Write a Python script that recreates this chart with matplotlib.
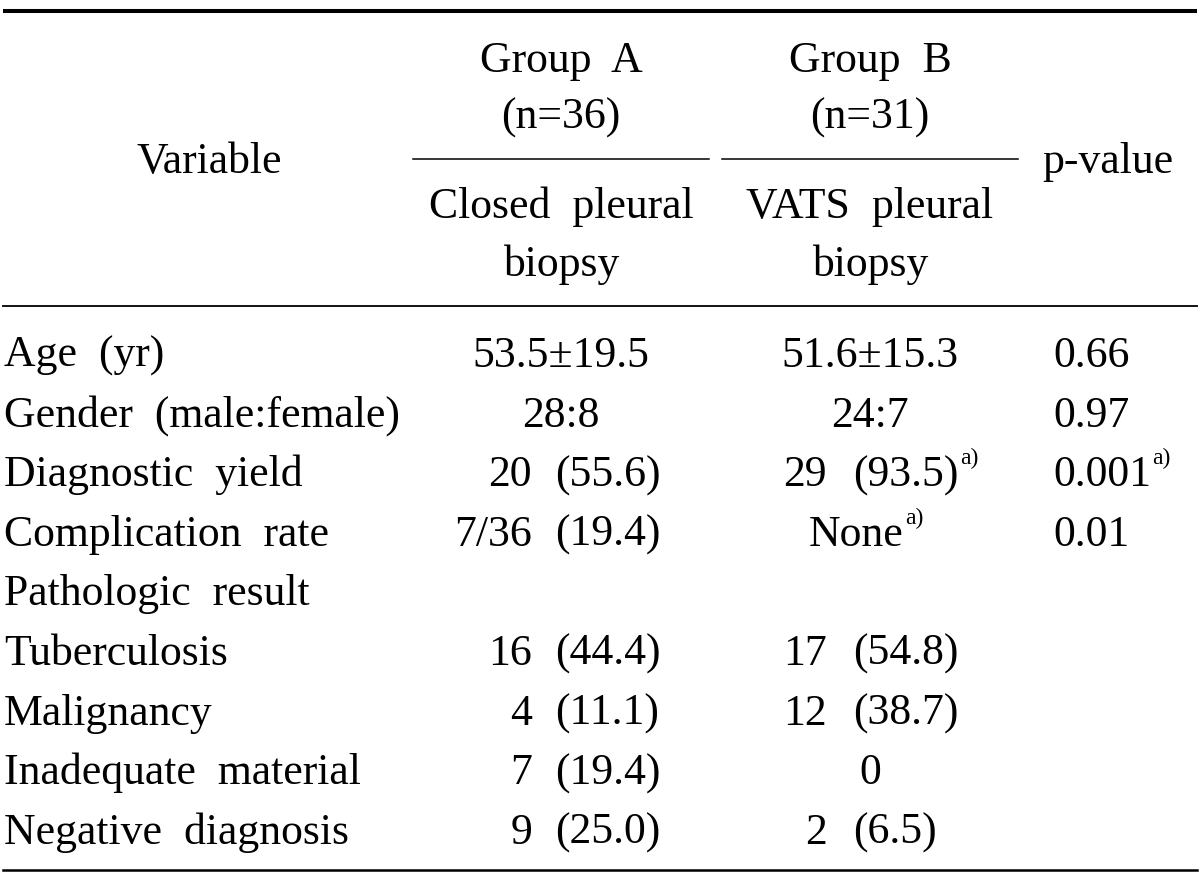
#!/usr/bin/env python3
"""Comparison table: closed vs VATS pleural biopsy, drawn as text on a blank axes."""

import matplotlib
matplotlib.use("Agg")
import matplotlib.pyplot as plt

plt.rcParams["font.family"] = ["Liberation Serif", "DejaVu Serif"]

LABELS = ["Age  (yr)", "Gender  (male:female)", "Diagnostic  yield",
          "Complication  rate", "Pathologic  result", "Tuberculosis",
          "Malignancy", "Inadequate  material", "Negative  diagnosis"]

# group A (closed pleural biopsy): count and percent, percent None = single value
A_COUNT = ["53.5±19.5", "28:8", "20", "7/36", "", "16", "4", "7", "9"]
A_PCT = [None, None, "(55.6)", "(19.4)", None, "(44.4)", "(11.1)", "(19.4)", "(25.0)"]

# group B (VATS pleural biopsy)
B_COUNT = ["51.6±15.3", "24:7", "29", "None", "", "17", "12", "0", "2"]
B_PCT = [None, None, "(93.5)", None, None, "(54.8)", "(38.7)", None, "(6.5)"]
B_NOTE = [False, False, True, True, False, False, False, False, False]

P_VALUES = ["0.66", "0.97", "0.001", "0.01", "", "", "", "", ""]
P_NOTE = [False, False, True, False, False, False, False, False, False]

HEAD_A = ["Group  A", "(n=36)", "Closed  pleural", "biopsy"]
HEAD_B = ["Group  B", "(n=31)", "VATS  pleural", "biopsy"]

FS = 31.5
SUP_FS = 17


def add_note(ax, t, y):
    ax.annotate("a)", xy=(1, y - 22), xycoords=(t, "data"),
                xytext=(1, 0), textcoords="offset points",
                fontsize=SUP_FS, ha="left", va="baseline")


def main():
    fig = plt.figure(figsize=(12, 8.77), dpi=100)
    ax = fig.add_axes([0, 0, 1, 1])
    ax.set_xlim(0, 1200)
    ax.set_ylim(877, 0)
    ax.axis("off")

    # rules
    ax.plot([3, 1197], [10.5, 10.5], color="black", lw=2.9, solid_capstyle="butt")
    ax.plot([413, 709], [158.5, 158.5], color="black", lw=1.1)
    ax.plot([722, 1018], [158.5, 158.5], color="black", lw=1.1)
    ax.plot([3, 1197], [306, 306], color="black", lw=1.3)
    ax.plot([3, 1197], [870, 870], color="black", lw=1.8)

    # header
    ax.text(209, 173, "Variable", fontsize=FS, ha="center", va="baseline")
    ax.text(1108, 173, "p-value", fontsize=FS, ha="center", va="baseline")
    for cx, lines in [(561, HEAD_A), (870, HEAD_B)]:
        for y, s in zip([72, 129, 218, 276], lines):
            ax.text(cx, y, s, fontsize=FS, ha="center", va="baseline")

    # body
    for i, label in enumerate(LABELS):
        y = 367 + i * 59.6
        ax.text(4, y, label, fontsize=FS, ha="left", va="baseline")

        if A_PCT[i] is None:
            ax.text(561, y, A_COUNT[i], fontsize=FS, ha="center", va="baseline")
        else:
            ax.text(532, y, A_COUNT[i], fontsize=FS, ha="right", va="baseline")
            ax.text(555, y, A_PCT[i], fontsize=FS, ha="left", va="baseline")

        if B_PCT[i] is None:
            cx = 856 if B_NOTE[i] else 870
            t = ax.text(cx, y, B_COUNT[i], fontsize=FS, ha="center", va="baseline")
        else:
            ax.text(827, y, B_COUNT[i], fontsize=FS, ha="right", va="baseline")
            t = ax.text(853, y, B_PCT[i], fontsize=FS, ha="left", va="baseline")
        if B_NOTE[i]:
            add_note(ax, t, y)

        if P_VALUES[i]:
            t = ax.text(1053, y, P_VALUES[i], fontsize=FS, ha="left", va="baseline")
            if P_NOTE[i]:
                add_note(ax, t, y)

    fig.savefig("out.png", dpi=100, facecolor="white")


if __name__ == "__main__":
    main()
